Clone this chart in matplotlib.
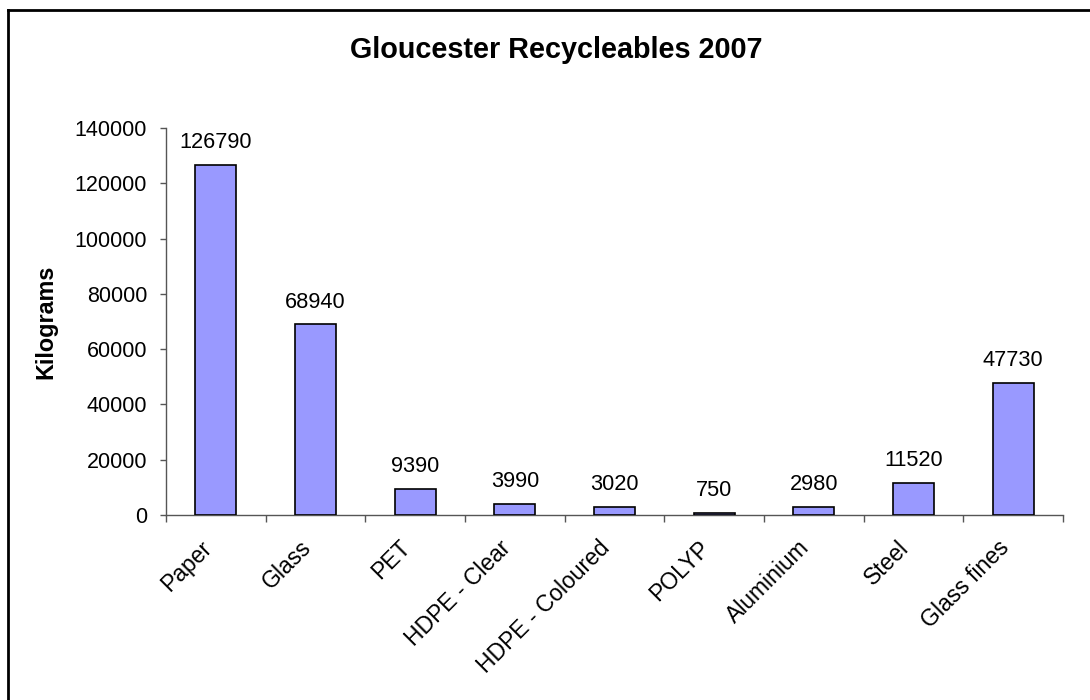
import matplotlib
matplotlib.use("Agg")
import matplotlib.pyplot as plt
from matplotlib.lines import Line2D

# Recyclables collected in Gloucester, 2007 (kg)
categories = ["Paper", "Glass", "PET", "HDPE - Clear", "HDPE - Coloured",
              "POLYP", "Aluminium", "Steel", "Glass fines"]
kilograms = [126790, 68940, 9390, 3990, 3020, 750, 2980, 11520, 47730]

y_ticks = [0, 20000, 40000, 60000, 80000, 100000, 120000, 140000]

plt.rcParams.update({
    "font.family": ["Liberation Sans", "DejaVu Sans"],
    "font.size": 15.5,
})

W, H = 1090, 700
fig = plt.figure(figsize=(W / 100, H / 100), dpi=100)
fig.patch.set_facecolor("white")

# plot area in pixel terms
left, right, top, bottom = 166, 1063, 128, 515
ax = fig.add_axes([left / W, 1 - bottom / H, (right - left) / W, (bottom - top) / H])

x = list(range(len(categories)))
ax.bar(x, kilograms, width=0.41, color="#9999FF", edgecolor="black",
       linewidth=1.2, zorder=3)

for xi, val in zip(x, kilograms):
    ax.annotate(f"{val}", (xi, val), xytext=(0, 12), textcoords="offset points",
                ha="center", va="baseline", fontsize=15.7)

ax.set_xlim(-0.5, len(categories) - 0.5)
ax.set_ylim(0, 140000)
ax.set_yticks(y_ticks)
ax.set_yticklabels([str(t) for t in y_ticks])

# category boundaries carry the tick marks; labels sit on invisible ticks
# nudged a little left of each centre so the rotated text lines up
ax.set_xticks([i - 0.5 for i in range(len(categories) + 1)])
ax.set_xticklabels([])
ax.set_xticks([xi - 0.08 for xi in x], minor=True)
ax.set_xticklabels(categories, minor=True, rotation=45, ha="right",
                   va="center", rotation_mode="anchor", fontsize=16.5)
ax.tick_params(axis="x", which="major", direction="out", length=5,
               width=1, color="#555555")
ax.tick_params(axis="x", which="minor", length=0, pad=21)
ax.tick_params(axis="y", direction="out", length=4.5, width=1,
               color="#555555", pad=9)

for side in ("top", "right"):
    ax.spines[side].set_visible(False)
for side in ("left", "bottom"):
    ax.spines[side].set_color("#555555")
    ax.spines[side].set_linewidth(1)

ax.set_ylabel("Kilograms", fontweight="bold", fontsize=16.8)
ax.yaxis.set_label_coords((57 - left) / (right - left), 0.5)

fig.text(556 / W, 1 - 50 / H, "Gloucester Recycleables 2007",
         ha="center", va="center", fontweight="bold", fontsize=20.7)

# chart frame (left and top edges)
fig.add_artist(Line2D([8 / W, 8 / W], [0, 1 - 10 / H], color="black",
                      linewidth=2, transform=fig.transFigure))
fig.add_artist(Line2D([8 / W, 1], [1 - 10 / H, 1 - 10 / H], color="black",
                      linewidth=2, transform=fig.transFigure))

fig.savefig("out.png", dpi=100)
